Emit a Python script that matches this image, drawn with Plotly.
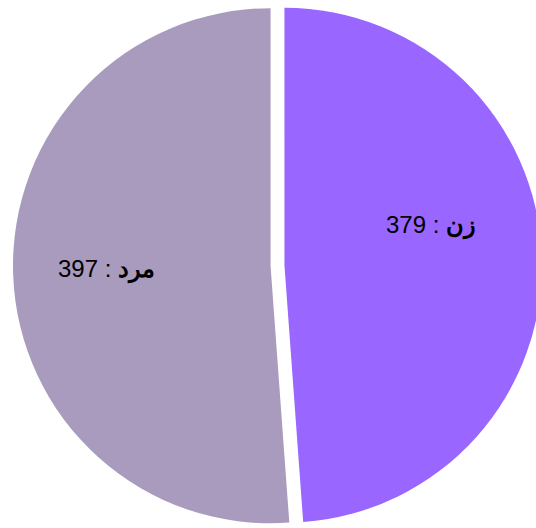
import plotly.graph_objects as go

# gender counts
labels = ["زن", "مرد"]
values = [379, 397]
colors = ["#9966FF", "#A99BBE"]

fig = go.Figure(go.Pie(
    labels=labels,
    values=values,
    sort=False,
    direction="clockwise",
    rotation=0,
    pull=[0.027, 0.027],
    marker=dict(colors=colors, line=dict(width=0)),
    textinfo="none",
    hoverinfo="label+value",
    showlegend=False,
))

# slice labels, placed by hand like the original
label_pos = [(0.7765, 0.576), (0.192, 0.493)]
for lab, val, (x, y) in zip(labels, values, label_pos):
    fig.add_annotation(
        x=x, y=y, xref="paper", yref="paper",
        xanchor="center", yanchor="middle",
        text=f"{val} : <b>{lab}</b>", showarrow=False,
        font=dict(family="Liberation Sans", size=24, color="#000000"),
    )

# pie is a bit bigger than the window, as in the original
fig.update_layout(
    width=555,
    height=530,
    margin=dict(l=0, r=0, t=1, b=0),
    paper_bgcolor="white",
    plot_bgcolor="white",
)

fig.write_html(
    "out.html",
    config={"displayModeBar": False},
    post_script="document.body.style.margin='0';document.body.style.overflow='hidden';",
)
